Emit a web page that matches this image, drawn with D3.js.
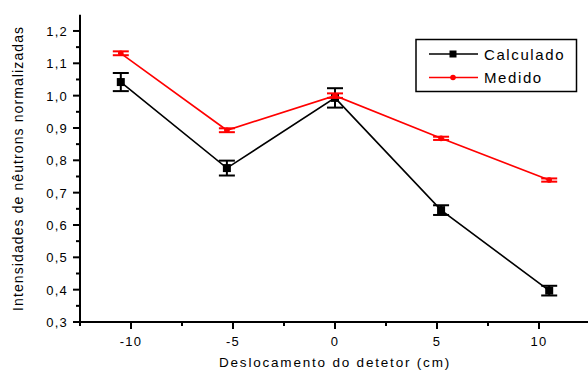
<html>
<head>
<script src="https://d3js.org/d3.v7.min.js"></script>
<style>
  body { margin: 0; background: #fff; }
  text { font-family: "Liberation Sans", Arial, sans-serif; fill: #000; }
</style>
</head>
<body>
<script>
// data
var positions = [-10.5, -5.3, 0, 5.2, 10.5];
var calculado = [1.042, 0.776, 0.993, 0.646, 0.397];
var calculadoErr = [0.028, 0.023, 0.03, 0.015, 0.015];
var medido = [1.131, 0.893, 1.0, 0.868, 0.739];
var medidoErr = [0.006, 0.006, 0.007, 0.005, 0.005];
var xTicks = [-10, -5, 0, 5, 10];
var yTicks = [0.3, 0.4, 0.5, 0.6, 0.7, 0.8, 0.9, 1.0, 1.1, 1.2];

var width = 588, height = 372;

var svg = d3.select("body").append("svg")
    .attr("width", width)
    .attr("height", height);

var x = d3.scaleLinear().domain([-12.5, 12.5]).range([80, 590]);
var y = d3.scaleLinear().domain([0.3, 1.25]).range([322, 14.8]);

var fmt = d => d.toFixed(1).replace(".", ",");

// y axis
var yAxis = svg.append("g").attr("transform", "translate(80,0)");
yAxis.append("line")
    .attr("x1", 0).attr("x2", 0)
    .attr("y1", y(1.25)).attr("y2", y(0.3) + 1)
    .attr("stroke", "#000").attr("stroke-width", 2);
yAxis.selectAll(".major").data(yTicks).enter().append("line")
    .attr("x1", -7).attr("x2", 0)
    .attr("y1", d => y(d)).attr("y2", d => y(d))
    .attr("stroke", "#000").attr("stroke-width", 2);
yAxis.selectAll(".minor").data(d3.range(0.35, 1.25, 0.1)).enter().append("line")
    .attr("x1", -4).attr("x2", 0)
    .attr("y1", d => y(d)).attr("y2", d => y(d))
    .attr("stroke", "#000").attr("stroke-width", 2);
yAxis.selectAll("text").data(yTicks).enter().append("text")
    .attr("x", -12).attr("y", d => y(d) + 5)
    .attr("text-anchor", "end")
    .attr("font-size", 13)
    .attr("letter-spacing", 1.2)
    .text(fmt);

// x axis
var xAxis = svg.append("g").attr("transform", "translate(0,322)");
xAxis.append("line")
    .attr("x1", 79).attr("x2", width)
    .attr("y1", 0).attr("y2", 0)
    .attr("stroke", "#000").attr("stroke-width", 2);
xAxis.selectAll(".major").data(xTicks).enter().append("line")
    .attr("x1", d => x(d)).attr("x2", d => x(d))
    .attr("y1", 0).attr("y2", 7)
    .attr("stroke", "#000").attr("stroke-width", 2);
xAxis.selectAll(".minor").data([-12.5, -7.5, -2.5, 2.5, 7.5]).enter().append("line")
    .attr("x1", d => x(d)).attr("x2", d => x(d))
    .attr("y1", 0).attr("y2", 4)
    .attr("stroke", "#000").attr("stroke-width", 2);
xAxis.selectAll("text").data(xTicks).enter().append("text")
    .attr("x", d => x(d)).attr("y", 24)
    .attr("text-anchor", "middle")
    .attr("font-size", 13)
    .attr("letter-spacing", 1.2)
    .text(d => d);

// axis titles
svg.append("text")
    .attr("x", x(0)).attr("y", 367)
    .attr("text-anchor", "middle")
    .attr("font-size", 13.5)
    .attr("letter-spacing", 1.8)
    .text("Deslocamento do detetor (cm)");
svg.append("text")
    .attr("transform", "translate(23," + y(0.775) + ") rotate(-90)")
    .attr("text-anchor", "middle")
    .attr("font-size", 14)
    .attr("letter-spacing", 1.1)
    .text("Intensidades de nêutrons normalizadas");

// series
var line = d3.line().x(d => x(d[0])).y(d => y(d[1]));

function drawSeries(vals, errs, color, marker) {
    var pts = positions.map((p, i) => [p, vals[i], errs[i]]);
    var g = svg.append("g");
    g.append("path").datum(pts)
        .attr("d", line)
        .attr("fill", "none")
        .attr("stroke", color)
        .attr("stroke-width", 1.6);
    var eb = g.selectAll(".eb").data(pts).enter().append("g");
    eb.append("line")
        .attr("x1", d => x(d[0])).attr("x2", d => x(d[0]))
        .attr("y1", d => y(d[1] - d[2])).attr("y2", d => y(d[1] + d[2]))
        .attr("stroke", color).attr("stroke-width", 2);
    [-1, 1].forEach(function(s) {
        eb.append("line")
            .attr("x1", d => x(d[0]) - 8).attr("x2", d => x(d[0]) + 8)
            .attr("y1", d => y(d[1] + s * d[2])).attr("y2", d => y(d[1] + s * d[2]))
            .attr("stroke", color).attr("stroke-width", 2);
    });
    if (marker == "square") {
        eb.append("rect")
            .attr("x", d => x(d[0]) - 4).attr("y", d => y(d[1]) - 4)
            .attr("width", 8).attr("height", 8)
            .attr("fill", color);
    } else {
        eb.append("circle")
            .attr("cx", d => x(d[0])).attr("cy", d => y(d[1]))
            .attr("r", 2.8)
            .attr("fill", color);
    }
}

drawSeries(calculado, calculadoErr, "#000", "square");
drawSeries(medido, medidoErr, "#ff0000", "circle");

// legend
var legend = svg.append("g");
legend.append("rect")
    .attr("x", 416).attr("y", 39.5)
    .attr("width", 160.5).attr("height", 52)
    .attr("fill", "#fff").attr("stroke", "#000").attr("stroke-width", 1.5);
var items = [["Calculado", "#000", "square"], ["Medido", "#ff0000", "circle"]];
items.forEach(function(it, i) {
    var ly = 54 + i * 23.5;
    legend.append("line")
        .attr("x1", 429).attr("x2", 478)
        .attr("y1", ly).attr("y2", ly)
        .attr("stroke", it[1]).attr("stroke-width", 1.6);
    if (it[2] == "square") {
        legend.append("rect")
            .attr("x", 449.5).attr("y", ly - 3.5)
            .attr("width", 7).attr("height", 7)
            .attr("fill", it[1]);
    } else {
        legend.append("circle")
            .attr("cx", 453).attr("cy", ly)
            .attr("r", 2.8)
            .attr("fill", it[1]);
    }
    legend.append("text")
        .attr("x", 484).attr("y", ly + 5.5)
        .attr("font-size", 15)
        .attr("letter-spacing", 1.6)
        .text(it[0]);
});
</script>
</body>
</html>
